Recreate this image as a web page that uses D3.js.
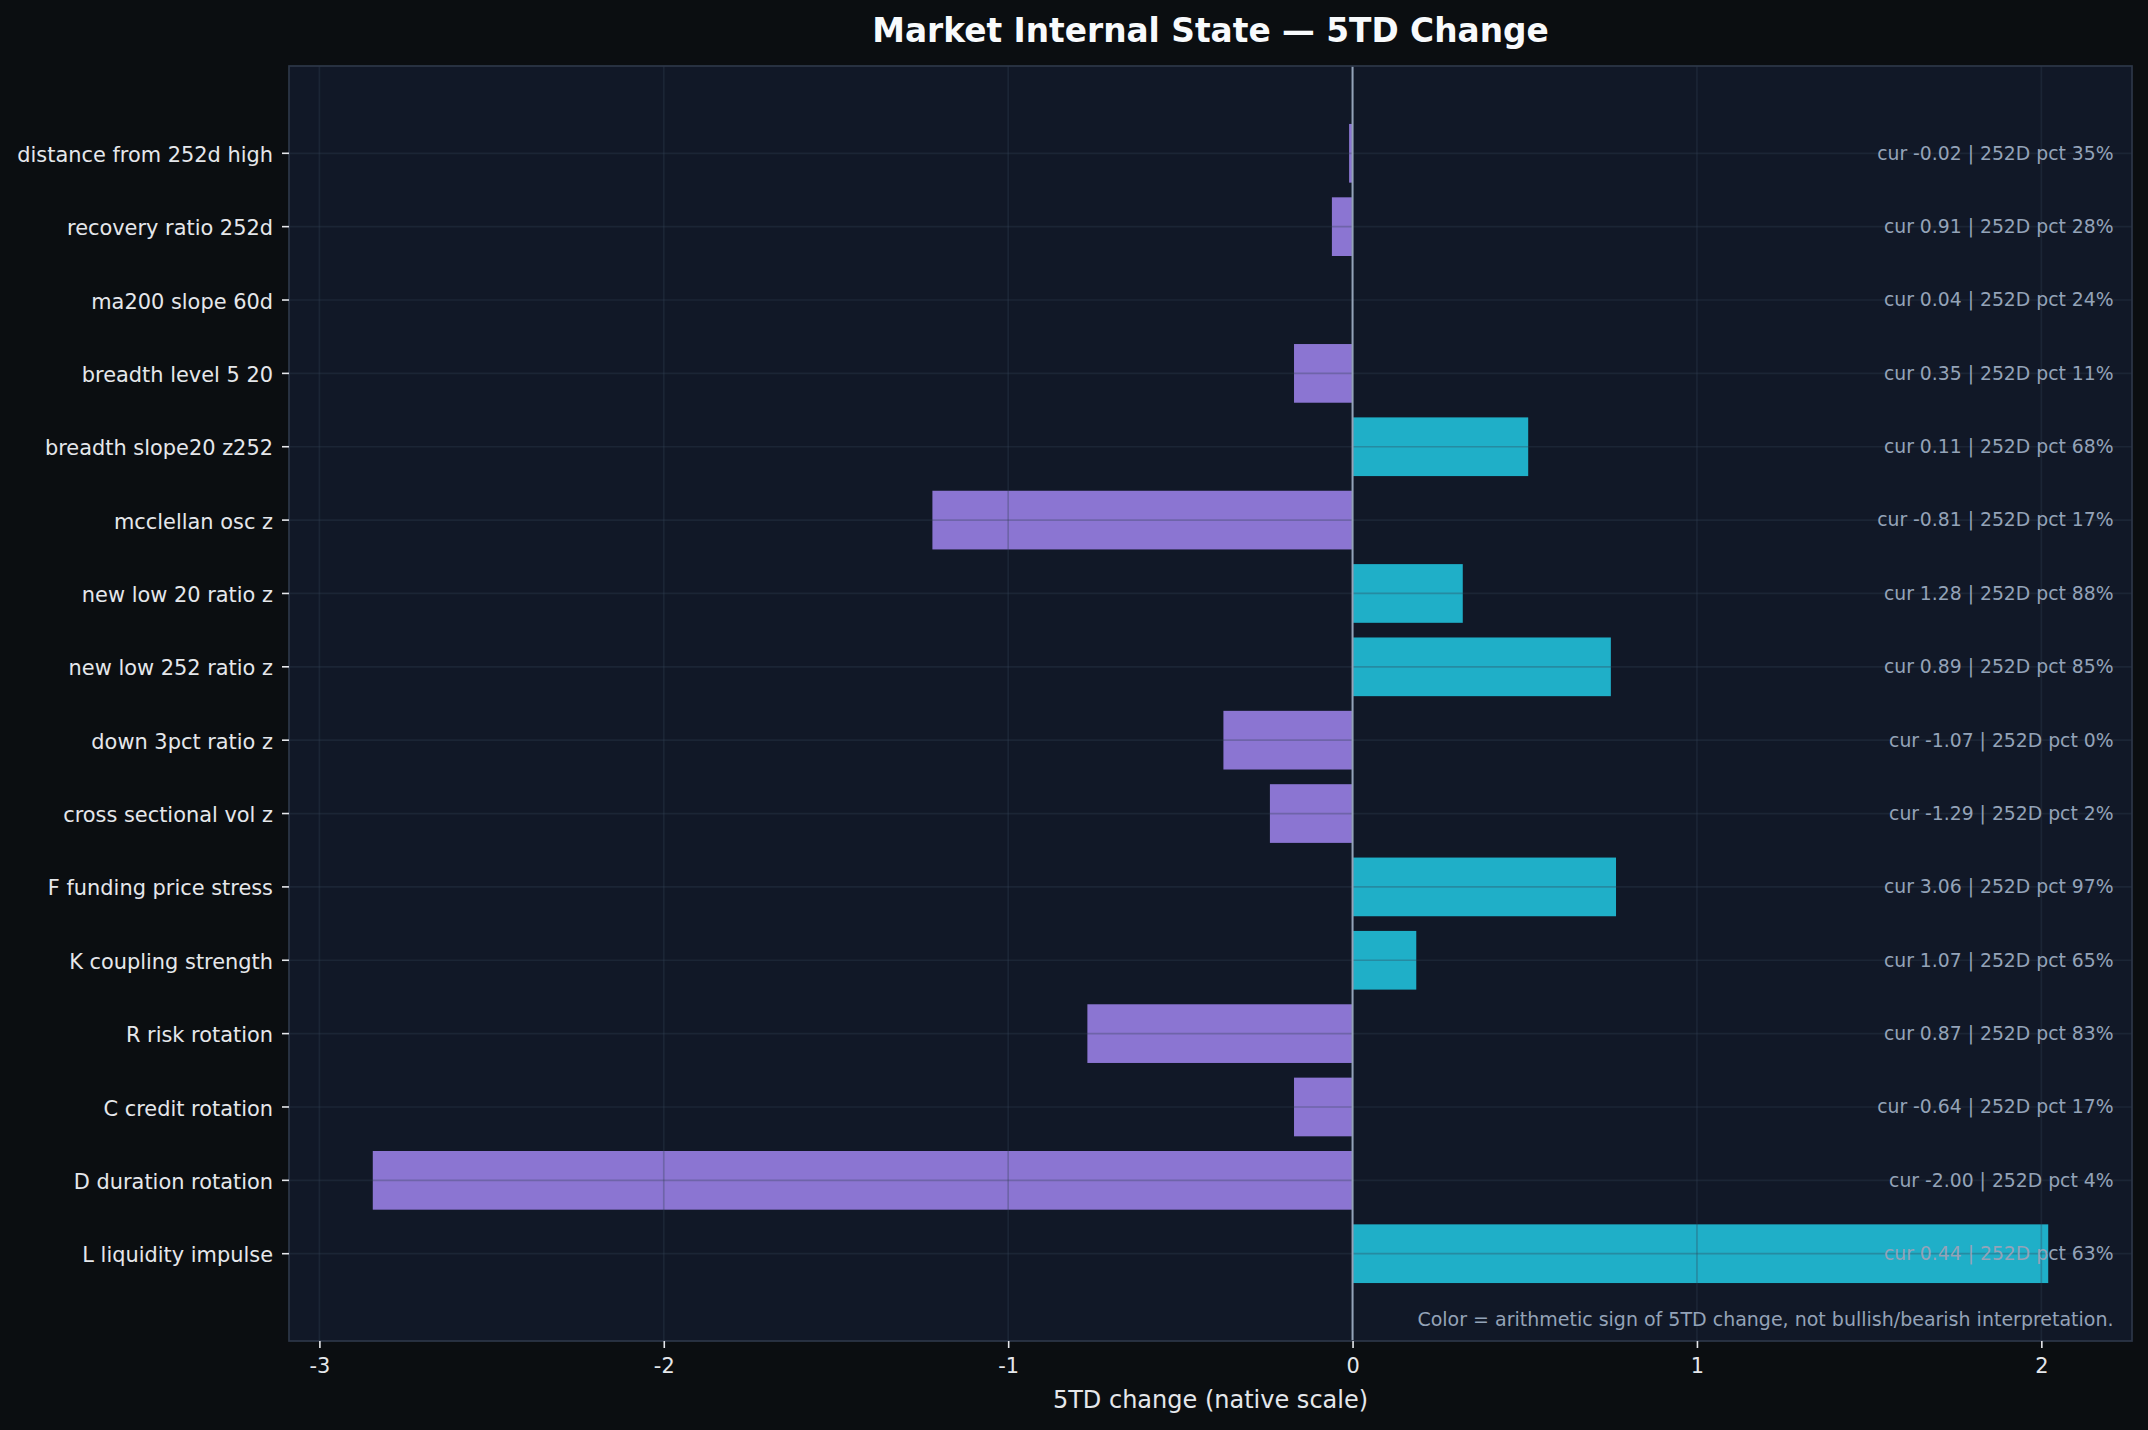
<!DOCTYPE html>
<html>
<head>
<meta charset="utf-8">
<script src="https://cdn.jsdelivr.net/npm/d3@7"></script>
<style>
  body { margin: 0; background: #0b0e11; }
  svg { display: block; }
</style>
</head>
<body>
<svg id="chart"></svg>
<script>
// ----------------------------------------
//  Data
// ----------------------------------------
var categories = [
  "distance from 252d high", "recovery ratio 252d", "ma200 slope 60d",
  "breadth level 5 20", "breadth slope20 z252", "mcclellan osc z",
  "new low 20 ratio z", "new low 252 ratio z", "down 3pct ratio z",
  "cross sectional vol z", "F funding price stress", "K coupling strength",
  "R risk rotation", "C credit rotation", "D duration rotation", "L liquidity impulse"
];
// 5TD change (native scale)
var change5d = [-0.01, -0.06, 0.0, -0.17, 0.51, -1.22, 0.32, 0.75,
                -0.375, -0.24, 0.765, 0.185, -0.77, -0.17, -2.845, 2.02];
// current value and 252D percentile shown on the right
var curValue = ["-0.02", "0.91", "0.04", "0.35", "0.11", "-0.81", "1.28", "0.89",
                "-1.07", "-1.29", "3.06", "1.07", "0.87", "-0.64", "-2.00", "0.44"];
var pct252 = [35, 28, 24, 11, 68, 17, 88, 85, 0, 2, 97, 65, 83, 17, 4, 63];
var xTicks = [-3, -2, -1, 0, 1, 2];

// ----------------------------------------
//  Sizing
// ----------------------------------------
var width = 2148, height = 1430;
var margin = { top: 66, right: 16, bottom: 89, left: 289 };
var plotW = width - margin.left - margin.right,
    plotH = height - margin.top - margin.bottom;

var svg = d3.select("#chart").attr("width", width).attr("height", height);
svg.append("rect").attr("width", width).attr("height", height).attr("fill", "#0b0e11");

var g = svg.append("g").attr("transform", "translate(" + margin.left + "," + margin.top + ")");

// ----------------------------------------
//  Scales (matplotlib-like 5% margins)
// ----------------------------------------
var lo = d3.min(change5d), hi = d3.max(change5d), pad = (hi - lo) * 0.05;
var x = d3.scaleLinear().domain([lo - pad, hi + pad]).range([0, plotW]);
var y = d3.scaleBand().domain(categories).range([0, plotH])
    .paddingInner(0.2).paddingOuter(0.79);

g.append("rect").attr("width", plotW).attr("height", plotH).attr("fill", "#111827");

// bars
g.selectAll("rect.bar").data(categories).enter().append("rect")
  .attr("class", "bar")
  .attr("x", function(d, i) { return x(Math.min(0, change5d[i])); })
  .attr("y", function(d) { return y(d); })
  .attr("width", function(d, i) { return Math.abs(x(change5d[i]) - x(0)); })
  .attr("height", y.bandwidth())
  .attr("fill", function(d, i) { return change5d[i] >= 0 ? "#22d3ee" : "#a78bfa"; })
  .attr("fill-opacity", 0.81);

// grid on top of bars
var grid = g.append("g").attr("stroke", "#334155").attr("stroke-opacity", 0.32).attr("stroke-width", 1.7);
grid.selectAll("line.gx").data(xTicks).enter().append("line")
  .attr("x1", function(d) { return x(d); }).attr("x2", function(d) { return x(d); })
  .attr("y1", 0).attr("y2", plotH);
grid.selectAll("line.gy").data(categories).enter().append("line")
  .attr("x1", 0).attr("x2", plotW)
  .attr("y1", function(d) { return y(d) + y.bandwidth() / 2; })
  .attr("y2", function(d) { return y(d) + y.bandwidth() / 2; });

// zero line
g.append("line")
  .attr("x1", x(0)).attr("x2", x(0)).attr("y1", 0).attr("y2", plotH)
  .attr("stroke", "#94a3b8").attr("stroke-width", 2);

// right-hand annotations
g.selectAll("text.note").data(categories).enter().append("text")
  .attr("x", plotW * 0.99)
  .attr("y", function(d) { return y(d) + y.bandwidth() / 2; })
  .attr("dy", "0.34em")
  .attr("text-anchor", "end")
  .attr("font-family", "DejaVu Sans")
  .attr("font-size", 18.8)
  .attr("fill", "#94a3b8")
  .text(function(d, i) { return "cur " + curValue[i] + " | 252D pct " + pct252[i] + "%"; });

g.append("text")
  .attr("x", plotW * 0.99).attr("y", plotH - 15)
  .attr("text-anchor", "end")
  .attr("font-family", "DejaVu Sans").attr("font-size", 19.0)
  .attr("fill", "#94a3b8")
  .text("Color = arithmetic sign of 5TD change, not bullish/bearish interpretation.");

// spines
g.append("rect").attr("width", plotW).attr("height", plotH)
  .attr("fill", "none").attr("stroke", "#2d3748").attr("stroke-width", 1.7);

// ----------------------------------------
//  Axes
// ----------------------------------------
var xAxis = g.append("g").attr("transform", "translate(0," + plotH + ")")
  .call(d3.axisBottom(x).tickValues(xTicks).tickSize(7).tickPadding(10)
        .tickFormat(function(d) { return String(d); }));
var yAxis = g.append("g")
  .call(d3.axisLeft(y).tickSize(7).tickPadding(9));

[xAxis, yAxis].forEach(function(ax) {
  ax.select(".domain").remove();
  ax.selectAll(".tick line").attr("stroke", "#e5e7eb").attr("stroke-width", 1.6);
  ax.selectAll(".tick text").attr("fill", "#e5e7eb")
    .attr("font-family", "DejaVu Sans").attr("font-size", 20.9);
});
xAxis.selectAll(".tick text").attr("dy", "0.71em");
yAxis.selectAll(".tick text").attr("dy", "0.41em");

svg.append("text")
  .attr("x", margin.left + plotW / 2).attr("y", 1408)
  .attr("text-anchor", "middle")
  .attr("font-family", "DejaVu Sans").attr("font-size", 24)
  .attr("fill", "#e5e7eb")
  .text("5TD change (native scale)");

svg.append("text")
  .attr("x", margin.left + plotW / 2).attr("y", 42)
  .attr("text-anchor", "middle")
  .attr("font-family", "DejaVu Sans").attr("font-weight", "bold").attr("font-size", 32.8)
  .attr("fill", "#f8fafc")
  .text("Market Internal State \u2014 5TD Change");
</script>
</body>
</html>
